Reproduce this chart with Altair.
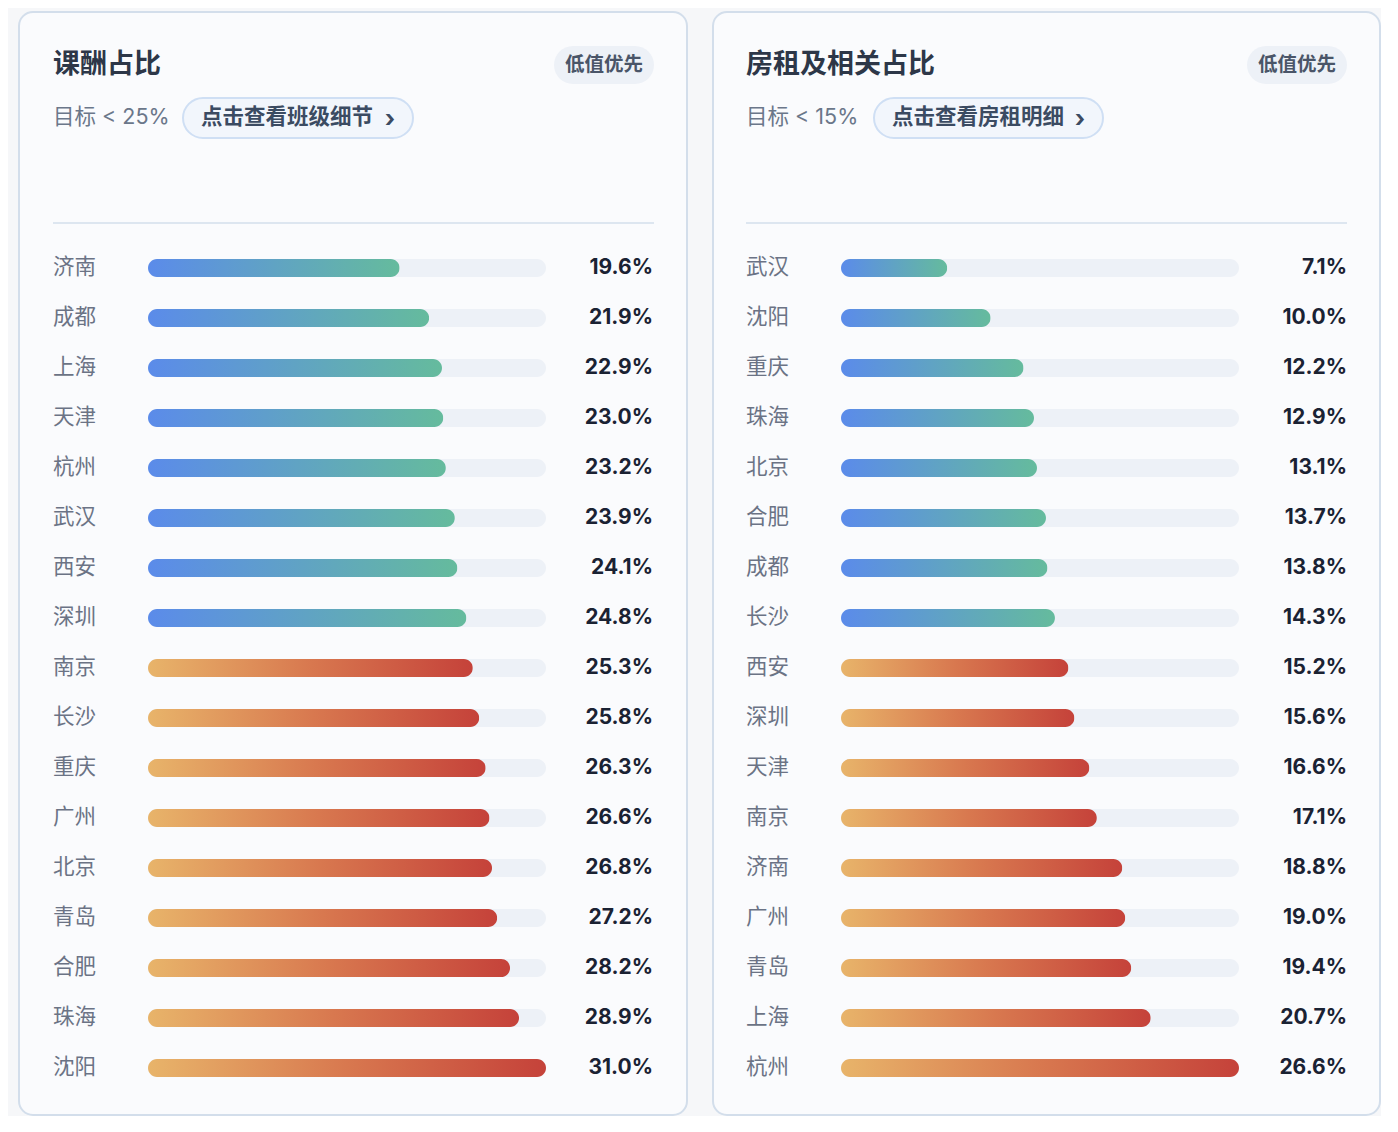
import pandas as pd
import altair as alt

FONT = "Inter, 'Noto Sans CJK SC', sans-serif"

# Data
salary_cities = ['济南', '成都', '上海', '天津', '杭州', '武汉', '西安', '深圳', '南京',
                 '长沙', '重庆', '广州', '北京', '青岛', '合肥', '珠海', '沈阳']
salary_values = [19.6, 21.9, 22.9, 23.0, 23.2, 23.9, 24.1, 24.8, 25.3,
                 25.8, 26.3, 26.6, 26.8, 27.2, 28.2, 28.9, 31.0]

rent_cities = ['武汉', '沈阳', '重庆', '珠海', '北京', '合肥', '成都', '长沙', '西安',
               '深圳', '天津', '南京', '济南', '广州', '青岛', '上海', '杭州']
rent_values = [7.1, 10.0, 12.2, 12.9, 13.1, 13.7, 13.8, 14.3, 15.2,
               15.6, 16.6, 17.1, 18.8, 19.0, 19.4, 20.7, 26.6]

CARD_W, CARD_H = 668, 1103

good_grad = alt.LinearGradient(
    gradient='linear', x1=0, x2=1, y1=0, y2=0,
    stops=[alt.GradientStop(color='#5b8bea', offset=0),
           alt.GradientStop(color='#65bb9d', offset=1)]
)
bad_grad = alt.LinearGradient(
    gradient='linear', x1=0, x2=1, y1=0, y2=0,
    stops=[alt.GradientStop(color='#e8b46a', offset=0),
           alt.GradientStop(color='#d8784f', offset=0.5),
           alt.GradientStop(color='#c5423a', offset=1)]
)


def card(cities, values, title, target, target_num, button, pill_x1, pill_x2, x_off):
    df = pd.DataFrame({'city': cities, 'value': values})
    df['max'] = max(values)
    df['label'] = [f'{v:.1f}%' for v in values]
    one = pd.DataFrame({'a': [0]})

    xs = alt.Scale(domain=[0, max(values)], range=[129 - x_off, 527 - x_off])
    ys = alt.Scale(type='point', domain=cities, range=[256, 1056], padding=0)
    y_enc = alt.Y('city:N', scale=ys, axis=None)
    base = alt.Chart(df)

    bg = alt.Chart(one).mark_rect(
        fill='#fafbfd', stroke='#d3deeb', strokeWidth=2, cornerRadius=14
    ).encode(x=alt.value(0), x2=alt.value(CARD_W - x_off), y=alt.value(0), y2=alt.value(CARD_H))

    title_t = alt.Chart(one).mark_text(
        align='left', baseline='middle', fontSize=27, fontWeight='bold',
        color='#2d3748', font=FONT
    ).encode(x=alt.value(34 - x_off), y=alt.value(53), text=alt.value(title))

    badge = alt.Chart(one).mark_rect(fill='#edf1f7', cornerRadius=19).encode(
        x=alt.value(535 - x_off), x2=alt.value(635 - x_off), y=alt.value(34), y2=alt.value(72))
    badge_t = alt.Chart(one).mark_text(
        align='center', baseline='middle', fontSize=19.5, fontWeight='bold',
        color='#4a5568', font=FONT
    ).encode(x=alt.value(585 - x_off), y=alt.value(53), text=alt.value('低值优先'))

    sub_t = alt.Chart(one).mark_text(
        align='left', baseline='middle', fontSize=21.5, color='#6b778a', font=FONT
    ).encode(x=alt.value(34 - x_off), y=alt.value(106), text=alt.value(target))

    pill = alt.Chart(one).mark_rect(
        fill='#f2f6fc', stroke='#cfdff4', strokeWidth=2, cornerRadius=20
    ).encode(x=alt.value(pill_x1), x2=alt.value(pill_x2), y=alt.value(86), y2=alt.value(126))
    pill_t = alt.Chart(one).mark_text(
        align='left', baseline='middle', fontSize=21.5, fontWeight='bold',
        color='#3b4b62', font=FONT
    ).encode(x=alt.value(pill_x1 + 18), y=alt.value(106), text=alt.value(button))
    chev = alt.Chart(one).mark_text(
        align='right', baseline='middle', fontSize=24, fontWeight='bold',
        color='#3b4b62', font=FONT
    ).encode(x=alt.value(pill_x2 - 18), y=alt.value(108), text=alt.value('›'))

    divider = alt.Chart(one).mark_rule(color='#dde6f0', strokeWidth=2).encode(
        x=alt.value(34 - x_off), x2=alt.value(635 - x_off), y=alt.value(211))

    track = base.mark_bar(size=18, cornerRadius=9, color='#edf1f7').encode(
        x=alt.X('max:Q', scale=xs, axis=None), y=y_enc)
    good = base.transform_filter(alt.datum.value < target_num).mark_bar(
        size=18, cornerRadius=9, color=good_grad
    ).encode(x=alt.X('value:Q', scale=xs, axis=None), y=y_enc)
    bad = base.transform_filter(alt.datum.value >= target_num).mark_bar(
        size=18, cornerRadius=9, color=bad_grad
    ).encode(x=alt.X('value:Q', scale=xs, axis=None), y=y_enc)

    names = base.mark_text(
        align='left', baseline='middle', fontSize=21.5, color='#6b7385', font=FONT
    ).encode(x=alt.value(34 - x_off), y=y_enc, text='city:N')
    vals = base.mark_text(
        align='right', baseline='middle', fontSize=21, fontWeight='bold',
        color='#1a2233', font=FONT
    ).encode(x=alt.value(634), y=y_enc, text='label:N')

    return alt.layer(bg, title_t, badge, badge_t, sub_t, pill, pill_t, chev, divider,
                     track, good, bad, names, vals).properties(
        width=CARD_W - x_off, height=CARD_H)


left = card(salary_cities, salary_values, '课酬占比', '目标 < 25%', 25,
            '点击查看班级细节', 164, 394, 0)
right = card(rent_cities, rent_values, '房租及相关占比', '目标 < 15%', 15,
             '点击查看房租明细', 161, 390, 1)

chart = alt.hconcat(left, right, spacing=24).properties(
    padding={'left': 10, 'top': 3, 'right': 0, 'bottom': 0},
    background='#f6f7f9'
).configure_view(stroke=None).configure_text(font=FONT)

chart.save('out.html', embed_options={'renderer': 'svg', 'actions': False})
